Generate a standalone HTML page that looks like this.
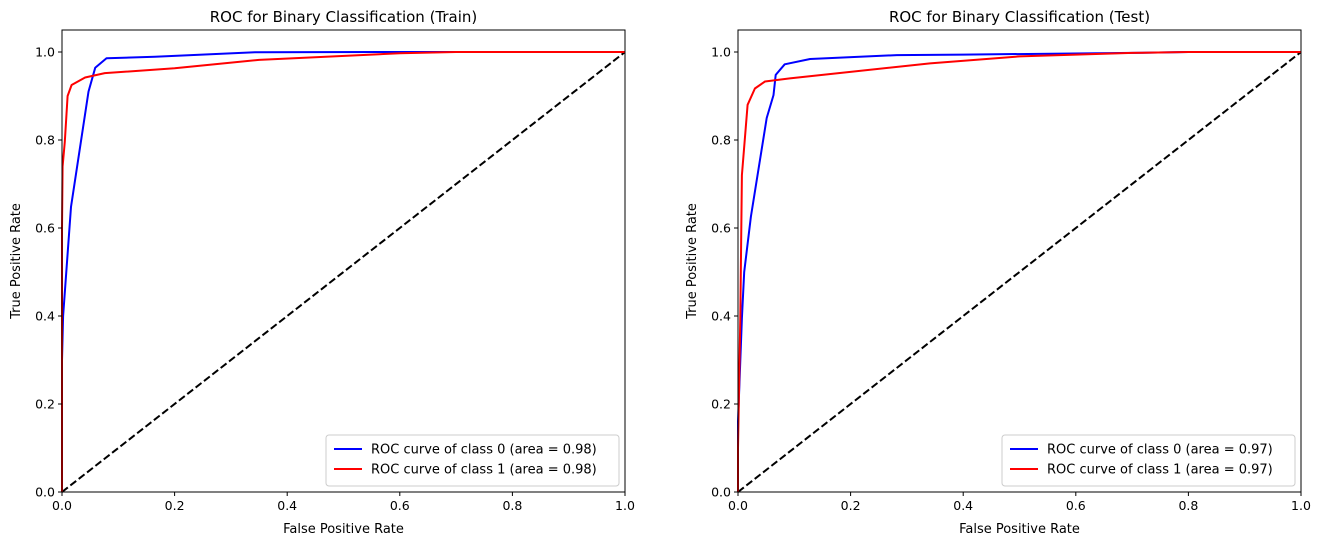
<!DOCTYPE html>
<html><head><meta charset="utf-8"><style>
body{margin:0;background:#fff;}
svg{display:block;font-family:"DejaVu Sans","Liberation Sans",sans-serif;}
</style></head><body>
<svg id="chart" width="1322" height="545"></svg>
<script>
const tickValues=[0,0.2,0.4,0.6,0.8,1.0];
const tickLabels=["0.0","0.2","0.4","0.6","0.8","1.0"];
const trainClass0Fpr=[0,0,0.002,0.016,0.047,0.059,0.079,0.165,0.343,0.6,1];
const trainClass0Tpr=[0,0.3,0.4,0.648,0.91,0.964,0.986,0.989,0.9995,1,1];
const trainClass1Fpr=[0,0,0.001,0.005,0.01,0.017,0.041,0.076,0.2,0.35,0.6,0.7,1];
const trainClass1Tpr=[0,0.6,0.74,0.796,0.9,0.925,0.942,0.952,0.963,0.982,0.997,1,1];
const testClass0Fpr=[0,0,0.007,0.011,0.023,0.051,0.063,0.067,0.083,0.128,0.282,0.4,0.7,0.8,1];
const testClass0Tpr=[0,0.16,0.395,0.5,0.626,0.85,0.902,0.948,0.972,0.984,0.993,0.994,0.998,1,1];
const testClass1Fpr=[0,0,0.004,0.007,0.017,0.03,0.048,0.092,0.341,0.5,0.7,0.8,1];
const testClass1Tpr=[0,0.1,0.395,0.72,0.88,0.917,0.933,0.94,0.974,0.99,0.998,1,1];
const panels=[
 {name:"train",x0:62,title:"ROC for Binary Classification (Train)",s:[[trainClass0Fpr,trainClass0Tpr],[trainClass1Fpr,trainClass1Tpr]],areas:["0.98","0.98"]},
 {name:"test",x0:738,title:"ROC for Binary Classification (Test)",s:[[testClass0Fpr,testClass0Tpr],[testClass1Fpr,testClass1Tpr]],areas:["0.97","0.97"]}
];
const NS="http://www.w3.org/2000/svg";
const svg=document.getElementById('chart');
function mk(t,a,p){const e=document.createElementNS(NS,t);for(const k in a)e.setAttribute(k,a[k]);(p||svg).appendChild(e);return e;}
const W=563,Y0=492,PX=440;
const colors=["#0000ff","#ff0000"];
panels.forEach(p=>{
 const g=mk('g',{});
 
 
 const xs=v=>p.x0+v*W, ys=v=>Y0-v*PX;
 // diagonal
 const d=mk('line',{x1:xs(0),y1:ys(0),x2:xs(1),y2:ys(1),stroke:'#000','stroke-width':2,'stroke-dasharray':'7.4,3.2'},g);
 
 
 p.s.forEach((s,i)=>{
  const pts=s[0].map((f,j)=>xs(f).toFixed(1)+','+ys(s[1][j]).toFixed(1)).join(' ');
  const l=mk('polyline',{points:pts,fill:'none',stroke:colors[i],'stroke-width':2,'stroke-linejoin':'round'},g);
  
  
 });
 const fr=mk('rect',{x:p.x0,y:30,width:W,height:462,fill:'none',stroke:'#000','stroke-width':1},g);
 
 
 tickValues.forEach((v,i)=>{
  mk('line',{x1:xs(v),y1:Y0,x2:xs(v),y2:Y0+4,stroke:'#000'},g);
  const tx=mk('text',{x:xs(v),y:Y0+18,'font-size':12.5,'text-anchor':'middle'},g);tx.textContent=tickLabels[i];
  
  
  mk('line',{x1:p.x0-4,y1:ys(v),x2:p.x0,y2:ys(v),stroke:'#000'},g);
  const ty=mk('text',{x:p.x0-7,y:ys(v)+4.5,'font-size':12.5,'text-anchor':'end'},g);ty.textContent=tickLabels[i];
  
  
 });
 const t=mk('text',{x:p.x0+W/2,y:22,'font-size':15,'text-anchor':'middle'},g);t.textContent=p.title;
 
 
 const xl=mk('text',{x:p.x0+W/2,y:533,'font-size':13,'text-anchor':'middle'},g);xl.textContent='False Positive Rate';
 
 
 const yl=mk('text',{x:0,y:0,'font-size':13,'text-anchor':'middle',transform:`translate(${p.x0-42},261) rotate(-90)`},g);yl.textContent='True Positive Rate';
 
 
 const lg=mk('g',{},g);
 
 
 const lx=p.x0+W-299;
 mk('rect',{x:lx,y:435,width:293,height:51,rx:3,fill:'#fff','fill-opacity':0.8,stroke:'#ccc'},lg);
 [0,1].forEach(i=>{
  const yy=449+i*20;
  mk('line',{x1:lx+8,y1:yy,x2:lx+36,y2:yy,stroke:colors[i],'stroke-width':2},lg);
  const lt=mk('text',{x:lx+45,y:yy+4.5,'font-size':13},lg);lt.textContent=`ROC curve of class ${i} (area = ${p.areas[i]})`;
  
  
 });
});
</script>
</body></html>
